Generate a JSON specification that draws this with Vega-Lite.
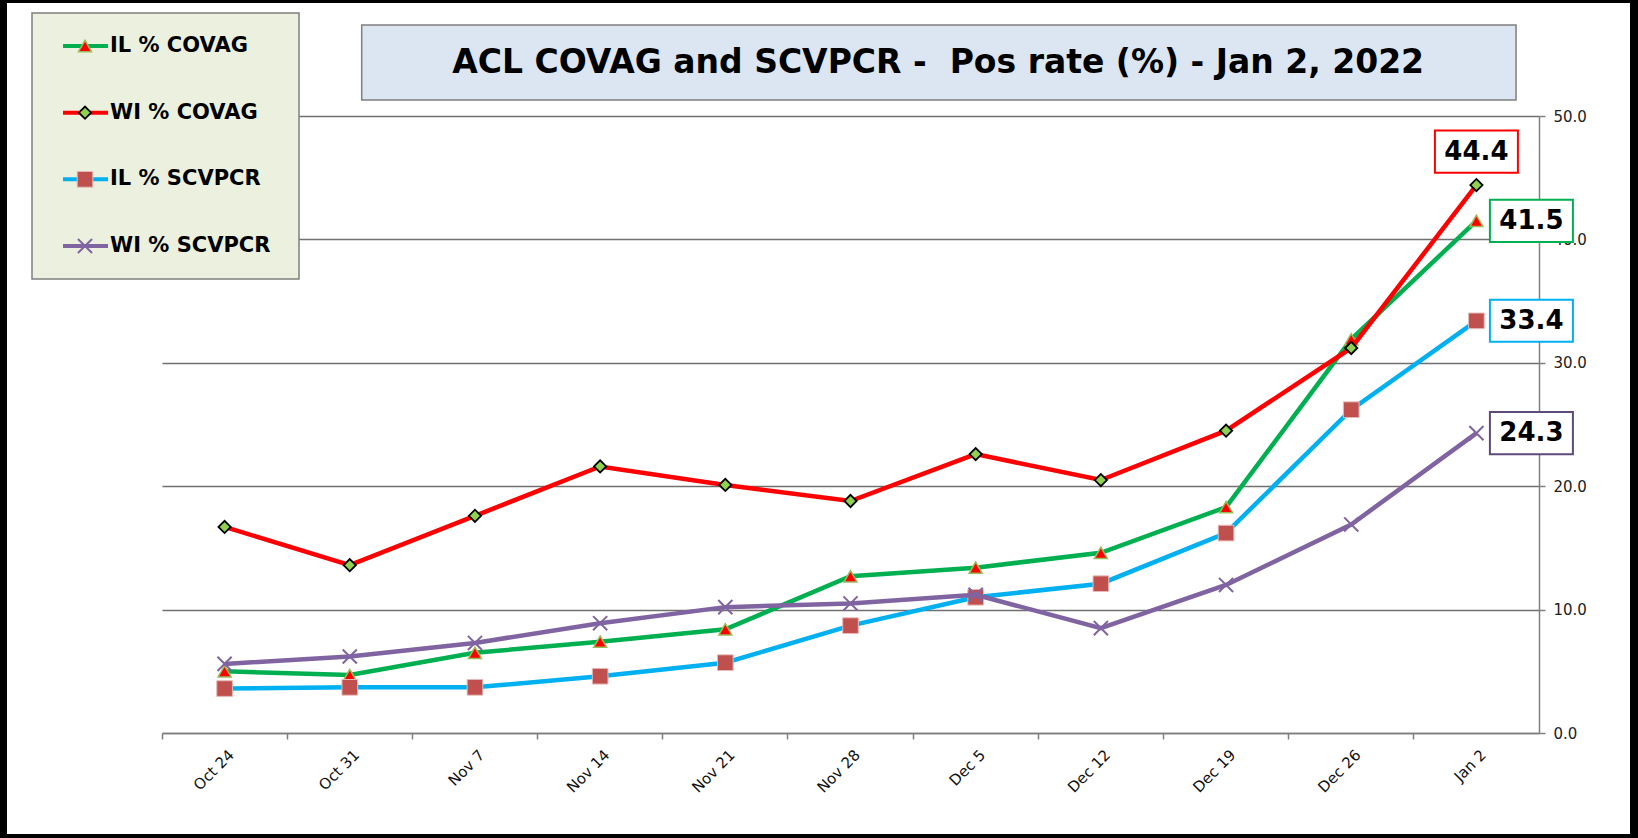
{
  "$schema": "https://vega.github.io/schema/vega-lite/v6.json",
  "width": 1377,
  "height": 617,
  "autosize": {"type": "none"},
  "padding": {"left": 162, "top": 116, "right": 99, "bottom": 105},
  "background": "#ffffff",
  "config": {"view": {"stroke": null}, "font": "DejaVu Sans"},
  "datasets": {
    "rates": [
      {"week": "Oct 24", "series": "IL % COVAG", "value": 5.0},
      {"week": "Oct 31", "series": "IL % COVAG", "value": 4.7},
      {"week": "Nov 7", "series": "IL % COVAG", "value": 6.5},
      {"week": "Nov 14", "series": "IL % COVAG", "value": 7.4},
      {"week": "Nov 21", "series": "IL % COVAG", "value": 8.4},
      {"week": "Nov 28", "series": "IL % COVAG", "value": 12.7},
      {"week": "Dec 5", "series": "IL % COVAG", "value": 13.4},
      {"week": "Dec 12", "series": "IL % COVAG", "value": 14.6},
      {"week": "Dec 19", "series": "IL % COVAG", "value": 18.3},
      {"week": "Dec 26", "series": "IL % COVAG", "value": 31.9},
      {"week": "Jan 2", "series": "IL % COVAG", "value": 41.5},
      {"week": "Oct 24", "series": "WI % COVAG", "value": 16.7},
      {"week": "Oct 31", "series": "WI % COVAG", "value": 13.6},
      {"week": "Nov 7", "series": "WI % COVAG", "value": 17.6},
      {"week": "Nov 14", "series": "WI % COVAG", "value": 21.6},
      {"week": "Nov 21", "series": "WI % COVAG", "value": 20.1},
      {"week": "Nov 28", "series": "WI % COVAG", "value": 18.8},
      {"week": "Dec 5", "series": "WI % COVAG", "value": 22.6},
      {"week": "Dec 12", "series": "WI % COVAG", "value": 20.5},
      {"week": "Dec 19", "series": "WI % COVAG", "value": 24.5},
      {"week": "Dec 26", "series": "WI % COVAG", "value": 31.2},
      {"week": "Jan 2", "series": "WI % COVAG", "value": 44.4},
      {"week": "Oct 24", "series": "IL % SCVPCR", "value": 3.6},
      {"week": "Oct 31", "series": "IL % SCVPCR", "value": 3.7},
      {"week": "Nov 7", "series": "IL % SCVPCR", "value": 3.7},
      {"week": "Nov 14", "series": "IL % SCVPCR", "value": 4.6},
      {"week": "Nov 21", "series": "IL % SCVPCR", "value": 5.7},
      {"week": "Nov 28", "series": "IL % SCVPCR", "value": 8.7},
      {"week": "Dec 5", "series": "IL % SCVPCR", "value": 11.0},
      {"week": "Dec 12", "series": "IL % SCVPCR", "value": 12.1},
      {"week": "Dec 19", "series": "IL % SCVPCR", "value": 16.2},
      {"week": "Dec 26", "series": "IL % SCVPCR", "value": 26.2},
      {"week": "Jan 2", "series": "IL % SCVPCR", "value": 33.4},
      {"week": "Oct 24", "series": "WI % SCVPCR", "value": 5.6},
      {"week": "Oct 31", "series": "WI % SCVPCR", "value": 6.2},
      {"week": "Nov 7", "series": "WI % SCVPCR", "value": 7.3},
      {"week": "Nov 14", "series": "WI % SCVPCR", "value": 8.9},
      {"week": "Nov 21", "series": "WI % SCVPCR", "value": 10.2},
      {"week": "Nov 28", "series": "WI % SCVPCR", "value": 10.5},
      {"week": "Dec 5", "series": "WI % SCVPCR", "value": 11.2},
      {"week": "Dec 12", "series": "WI % SCVPCR", "value": 8.5},
      {"week": "Dec 19", "series": "WI % SCVPCR", "value": 12.0},
      {"week": "Dec 26", "series": "WI % SCVPCR", "value": 16.9},
      {"week": "Jan 2", "series": "WI % SCVPCR", "value": 24.3}
    ]
  },
  "data": {"name": "rates"},
  "resolve": {
    "scale": {"x": "independent", "y": "independent"},
    "axis": {"x": "independent", "y": "independent"}
  },
  "layer": [
    {
      "encoding": {
        "x": {
          "field": "week", "type": "nominal", "sort": null,
          "scale": {"type": "band", "domain": ["Oct 24", "Oct 31", "Nov 7", "Nov 14", "Nov 21", "Nov 28", "Dec 5", "Dec 12", "Dec 19", "Dec 26", "Jan 2"], "paddingInner": 0, "paddingOuter": 0},
          "axis": {
            "title": null, "bandPosition": 0, "labelAngle": -45, "labelAlign": "right", "labelBaseline": "top",
            "labelOffset": 2, "labelPadding": 8, "labelFontSize": 15, "labelColor": "#111111", "labelOverlap": false, "labelFlush": false,
            "tickSize": 6, "tickColor": "#808080", "tickWidth": 1.5, "domainColor": "#808080", "domainWidth": 1.5, "grid": false
          }
        },
        "y": {
          "field": "value", "type": "quantitative",
          "scale": {"domain": [0, 50], "nice": false},
          "axis": {
            "orient": "right", "title": null, "values": [0, 10, 20, 30, 40, 50], "format": ".1f",
            "labelFontSize": 15, "labelColor": "#222222", "labelPadding": 8, "labelFlush": false,
            "tickSize": 6, "tickColor": "#808080", "tickWidth": 1.5, "domainColor": "#808080", "domainWidth": 1.5,
            "grid": true, "gridColor": "#707070", "gridWidth": 1.3
          }
        }
      },
      "layer": [
        {"transform": [{"filter": "datum.series === 'IL % COVAG'"}], "mark": {"type": "line", "color": "#00b050", "strokeWidth": 4.5}},
        {"transform": [{"filter": "datum.series === 'IL % COVAG'"}], "mark": {"type": "point", "shape": "triangle-up", "size": 170, "filled": true, "fill": "#ff0000", "stroke": "#9bbb59", "strokeWidth": 1.5, "opacity": 1}},
        {"transform": [{"filter": "datum.series === 'WI % COVAG'"}], "mark": {"type": "line", "color": "#ff0000", "strokeWidth": 4.5}},
        {"transform": [{"filter": "datum.series === 'WI % COVAG'"}], "mark": {"type": "point", "shape": "diamond", "size": 150, "filled": true, "fill": "#92d050", "stroke": "#000000", "strokeWidth": 1.8, "opacity": 1}},
        {"transform": [{"filter": "datum.series === 'IL % SCVPCR'"}], "mark": {"type": "line", "color": "#00b0f0", "strokeWidth": 4.5}},
        {"transform": [{"filter": "datum.series === 'IL % SCVPCR'"}], "mark": {"type": "point", "shape": "square", "size": 245, "filled": true, "fill": "#c0504d", "stroke": "#e6b9b8", "strokeWidth": 1, "opacity": 1}},
        {"transform": [{"filter": "datum.series === 'WI % SCVPCR'"}], "mark": {"type": "line", "color": "#8064a2", "strokeWidth": 4.5}},
        {"transform": [{"filter": "datum.series === 'WI % SCVPCR'"}], "mark": {"type": "point", "shape": "M-1,-1L1,1M-1,1L1,-1", "size": 200, "filled": false, "stroke": "#8064a2", "strokeWidth": 2, "opacity": 1}},
        {
          "transform": [{"filter": "datum.week === 'Jan 2' && datum.series !== 'WI % COVAG'"}],
          "mark": {"type": "point", "shape": "M-1.5,-0.76H1.5V0.76H-1.5Z", "size": 3062, "filled": true, "fill": "#ffffff", "strokeWidth": 2, "xOffset": 55, "opacity": 1},
          "encoding": {"stroke": {"field": "series", "type": "nominal", "scale": {"domain": ["IL % COVAG", "IL % SCVPCR", "WI % SCVPCR"], "range": ["#00b050", "#00b0f0", "#604a7b"]}, "legend": null}}
        },
        {
          "transform": [{"filter": "datum.week === 'Jan 2' && datum.series !== 'WI % COVAG'"}],
          "mark": {"type": "text", "xOffset": 55, "fontSize": 26, "fontWeight": "bold", "color": "#000000", "align": "center", "baseline": "middle"},
          "encoding": {"text": {"field": "value", "type": "quantitative", "format": ".1f"}}
        },
        {
          "transform": [{"filter": "datum.week === 'Jan 2' && datum.series === 'WI % COVAG'"}],
          "mark": {"type": "point", "shape": "M-1.5,-0.76H1.5V0.76H-1.5Z", "size": 3062, "filled": true, "fill": "#ffffff", "stroke": "#ff0000", "strokeWidth": 2, "yOffset": -33.5, "opacity": 1}
        },
        {
          "transform": [{"filter": "datum.week === 'Jan 2' && datum.series === 'WI % COVAG'"}],
          "mark": {"type": "text", "yOffset": -33.5, "fontSize": 26, "fontWeight": "bold", "color": "#000000", "align": "center", "baseline": "middle"},
          "encoding": {"text": {"field": "value", "type": "quantitative", "format": ".1f"}}
        }
      ]
    },
    {
      "data": {"values": [{}]},
      "layer": [
        {
          "mark": {"type": "rect", "fill": "#dce6f2", "stroke": "#7f7f7f", "strokeWidth": 1.5},
          "encoding": {
            "x": {"datum": 1.5953, "type": "quantitative", "scale": {"domain": [0, 11], "nice": false, "zero": false}, "axis": null},
            "x2": {"datum": 10.8166},
            "y": {"datum": 57.37, "type": "quantitative", "scale": {"domain": [0, 50], "nice": false}, "axis": null},
            "y2": {"datum": 51.3}
          }
        },
        {
          "mark": {"type": "rect", "fill": "#ebf1de", "stroke": "#7f7f7f", "strokeWidth": 1.5},
          "encoding": {
            "x": {"datum": -1.0385, "type": "quantitative", "scale": {"domain": [0, 11], "nice": false, "zero": false}, "axis": null},
            "x2": {"datum": 1.0944},
            "y": {"datum": 58.35, "type": "quantitative", "scale": {"domain": [0, 50], "nice": false}, "axis": null},
            "y2": {"datum": 36.79}
          }
        },
        {
          "mark": {"type": "text", "fontSize": 33, "fontWeight": "bold", "color": "#000000", "align": "center", "baseline": "middle"},
          "encoding": {
            "x": {"datum": 6.2, "type": "quantitative", "scale": {"domain": [0, 11], "nice": false, "zero": false}, "axis": null},
            "y": {"datum": 54.33, "type": "quantitative", "scale": {"domain": [0, 50], "nice": false}, "axis": null},
            "text": {"value": "ACL COVAG and SCVPCR -\u00a0 Pos rate (%) - Jan 2, 2022"}
          }
        },
        {
          "mark": {"type": "rect", "fill": "transparent", "stroke": "#000000", "strokeWidth": 8},
          "encoding": {
            "x": {"datum": -1.2702, "type": "quantitative", "scale": {"domain": [0, 11], "nice": false, "zero": false}, "axis": null},
            "x2": {"datum": 11.759},
            "y": {"datum": 59.48, "type": "quantitative", "scale": {"domain": [0, 50], "nice": false}, "axis": null},
            "y2": {"datum": -8.51}
          }
        }
      ]
    },
    {
      "transform": [{"filter": "datum.week === 'Oct 24'"}],
      "encoding": {
        "y": {"field": "series", "type": "nominal", "scale": {"type": "point", "domain": ["IL % COVAG", "WI % COVAG", "IL % SCVPCR", "WI % SCVPCR"], "range": [-70, 130], "padding": 0}, "axis": null}
      },
      "layer": [
        {"transform": [{"filter": "datum.series === 'IL % COVAG'"}], "mark": {"type": "rule", "color": "#00b050", "strokeWidth": 4},
         "encoding": {"x": {"datum": -0.7909, "type": "quantitative", "scale": {"domain": [0, 11], "nice": false, "zero": false}, "axis": null}, "x2": {"datum": -0.4314}}},
        {"transform": [{"filter": "datum.series === 'IL % COVAG'"}], "mark": {"type": "point", "shape": "triangle-up", "size": 170, "filled": true, "fill": "#ff0000", "stroke": "#9bbb59", "strokeWidth": 1.5, "opacity": 1},
         "encoding": {"x": {"datum": -0.6151, "type": "quantitative", "scale": {"domain": [0, 11], "nice": false, "zero": false}, "axis": null}}},
        {"transform": [{"filter": "datum.series === 'WI % COVAG'"}], "mark": {"type": "rule", "color": "#ff0000", "strokeWidth": 4},
         "encoding": {"x": {"datum": -0.7909, "type": "quantitative", "scale": {"domain": [0, 11], "nice": false, "zero": false}, "axis": null}, "x2": {"datum": -0.4314}}},
        {"transform": [{"filter": "datum.series === 'WI % COVAG'"}], "mark": {"type": "point", "shape": "diamond", "size": 150, "filled": true, "fill": "#92d050", "stroke": "#000000", "strokeWidth": 1.8, "opacity": 1},
         "encoding": {"x": {"datum": -0.6151, "type": "quantitative", "scale": {"domain": [0, 11], "nice": false, "zero": false}, "axis": null}}},
        {"transform": [{"filter": "datum.series === 'IL % SCVPCR'"}], "mark": {"type": "rule", "color": "#00b0f0", "strokeWidth": 4},
         "encoding": {"x": {"datum": -0.7909, "type": "quantitative", "scale": {"domain": [0, 11], "nice": false, "zero": false}, "axis": null}, "x2": {"datum": -0.4314}}},
        {"transform": [{"filter": "datum.series === 'IL % SCVPCR'"}], "mark": {"type": "point", "shape": "square", "size": 245, "filled": true, "fill": "#c0504d", "stroke": "#e6b9b8", "strokeWidth": 1, "opacity": 1},
         "encoding": {"x": {"datum": -0.6151, "type": "quantitative", "scale": {"domain": [0, 11], "nice": false, "zero": false}, "axis": null}}},
        {"transform": [{"filter": "datum.series === 'WI % SCVPCR'"}], "mark": {"type": "rule", "color": "#8064a2", "strokeWidth": 4},
         "encoding": {"x": {"datum": -0.7909, "type": "quantitative", "scale": {"domain": [0, 11], "nice": false, "zero": false}, "axis": null}, "x2": {"datum": -0.4314}}},
        {"transform": [{"filter": "datum.series === 'WI % SCVPCR'"}], "mark": {"type": "point", "shape": "M-1,-1L1,1M-1,1L1,-1", "size": 200, "filled": false, "stroke": "#8064a2", "strokeWidth": 2, "opacity": 1},
         "encoding": {"x": {"datum": -0.6151, "type": "quantitative", "scale": {"domain": [0, 11], "nice": false, "zero": false}, "axis": null}}},
        {"mark": {"type": "text", "align": "left", "baseline": "middle", "fontSize": 21, "fontWeight": "bold", "color": "#000000"},
         "encoding": {"x": {"datum": -0.4154, "type": "quantitative", "scale": {"domain": [0, 11], "nice": false, "zero": false}, "axis": null}, "text": {"field": "series"}}}
      ]
    }
  ]
}
